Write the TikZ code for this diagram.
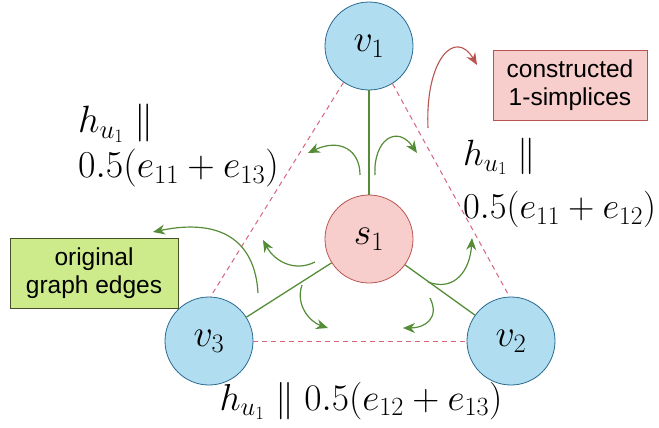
\RequirePackage{fix-cm}
\documentclass[tikz,border=0pt]{standalone}
\usepackage{fontspec}
\setsansfont{Liberation Sans}
\usetikzlibrary{arrows.meta}
\definecolor{vblue}{RGB}{177,221,240}
\definecolor{vblueb}{RGB}{40,105,145}
\definecolor{spink}{RGB}{248,206,204}
\definecolor{sred}{RGB}{184,84,80}
\definecolor{dashc}{RGB}{215,100,125}
\definecolor{egreen}{RGB}{85,140,55}
\definecolor{bgreen}{RGB}{205,235,139}
\definecolor{bgreenb}{RGB}{70,80,40}
\begin{document}
\begin{tikzpicture}[x=1pt,y=-1pt,
  mathfont/.style={font=\fontsize{38}{45}\selectfont},
  vert/.style={circle,draw=vblueb,fill=vblue,line width=0.8pt,minimum size=88pt,inner sep=0pt,mathfont},
  simp/.style={circle,draw=sred,fill=spink,line width=0.8pt,minimum size=88pt,inner sep=0pt,mathfont},
  dashedge/.style={draw=dashc,line width=1pt,dash pattern=on 5pt off 4pt},
  graphedge/.style={draw=egreen,line width=1.3pt},
  flow/.style={draw=egreen,line width=1.2pt,-{Stealth[length=12pt,width=10pt]}},
  redflow/.style={draw=sred,line width=1.1pt,-{Stealth[length=12pt,width=10pt]}},
  legend/.style={draw,line width=0.8pt,minimum height=70pt,inner sep=0pt,align=center,font=\sffamily\fontsize{24.5}{28}\selectfont},
  lbl/.style={inner sep=0pt,mathfont,align=left}
]
\useasboundingbox (0,0) rectangle (659,428);

\node[vert] (v1) at (369,46) {$v_1$};
\node[simp] (s1) at (369,239) {$s_1$};
\node[vert] (v3) at (209,341) {$v_3$};
\node[vert] (v2) at (511,341) {$v_2$};

% dashed 1-simplices
\draw[dashedge] (v1.235) -- (v3.88);
\draw[dashedge] (v1.302) -- (v2.92);
\draw[dashedge] (v3.east) -- (v2.west);

% original graph edges
\draw[graphedge] (v1) -- (s1);
\draw[graphedge] (s1) -- (v3);
\draw[graphedge] (s1) -- (v2);

% legend boxes
\node[legend,draw=sred,fill=spink,minimum width=154pt] (cons) at (570,85) {constructed\\1-simplices};
\node[legend,draw=bgreenb,fill=bgreen,minimum width=168pt] (orig) at (94,273) {original\\graph edges};

% labels
\node[lbl,anchor=north west] (l13) at (78,104) {$h_{u_1}\parallel$\\$0.5(e_{11}+e_{13})$};
\node[lbl,anchor=north west,font=\fontsize{36.5}{53}\selectfont] (l12) at (463,138) {$h_{u_1}\parallel$\\$0.5(e_{11}+e_{12})$};
\node[lbl,anchor=base,font=\fontsize{37.5}{45}\selectfont] (l23) at (361,410) {$h_{u_1}\parallel 0.5(e_{12}+e_{13})$};

% flow arrows
\coordinate (a1s) at (360,175); \coordinate (a1e) at (308,153);
\coordinate (a2s) at (375,175); \coordinate (a2e) at (417,153);
\coordinate (a3s) at (315,262); \coordinate (a3e) at (263,240);
\coordinate (a4s) at (302,285); \coordinate (a4e) at (328,328);
\coordinate (a5s) at (430,298); \coordinate (a5e) at (403,328);
\coordinate (a6s) at (428,282); \coordinate (a6e) at (472,238);
\coordinate (a7s) at (258,293); \coordinate (a7e) at (153,232);
\coordinate (rs) at (428,128); \coordinate (re) at (477,65);

\draw[flow] (a1s) .. controls (360,150) and (340,138) .. (a1e);
\draw[flow] (a2s) .. controls (373,140) and (397,124) .. (a2e);
\draw[flow] (a3s) .. controls (295,272) and (275,262) .. (a3e);
\draw[flow] (a4s) .. controls (295,305) and (310,322) .. (a4e);
\draw[flow] (a5s) .. controls (440,318) and (425,328) .. (a5e);
\draw[flow] (a6s) .. controls (455,292) and (470,270) .. (a6e);
\draw[flow] (a7s) .. controls (255,240) and (220,218) .. (a7e);
\draw[redflow] (rs) .. controls (425,60) and (455,28) .. (re);
\end{tikzpicture}
\end{document}
